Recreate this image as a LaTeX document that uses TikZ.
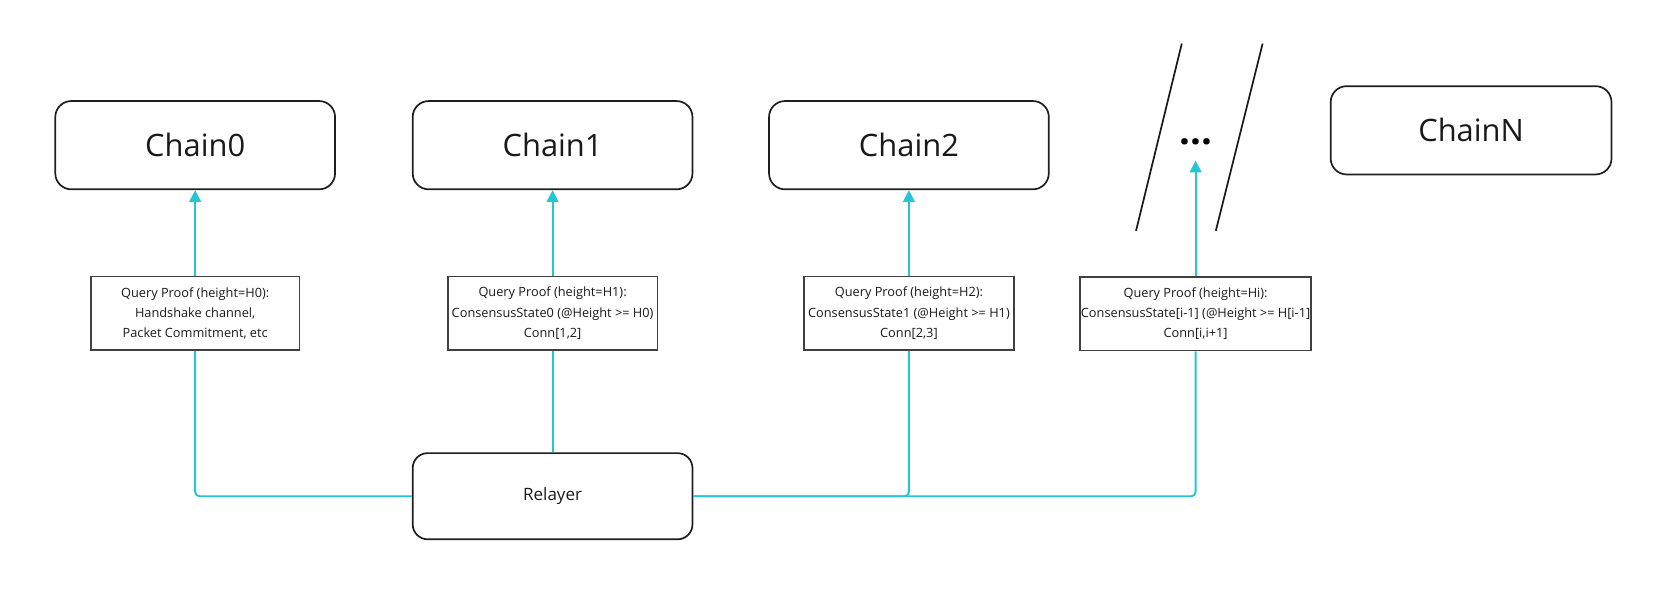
\documentclass[tikz,border=0pt]{standalone}
\usepackage{fontspec}
\setmainfont{Open Sans}
\usetikzlibrary{arrows.meta}
\definecolor{cyanline}{RGB}{34,199,211}
\definecolor{boxline}{RGB}{30,30,30}
\tikzset{
  chainbox/.style={draw=boxline, line width=1.6pt, rounded corners=15pt, minimum width=263pt, minimum height=83pt, inner sep=0pt, font=\fontsize{29}{35}\selectfont, text=black!90},
  querybox/.style={draw=boxline!85, line width=1.6pt, minimum height=69pt, inner sep=0pt, align=center, font=\fontsize{12}{19}\selectfont, text=black!90},
  relbox/.style={draw=boxline, line width=1.6pt, rounded corners=14pt, minimum width=263pt, minimum height=81pt, inner sep=0pt, font=\fontsize{16}{19}\selectfont, text=black!90},
  arr/.style={draw=cyanline, line width=1.8pt, -{Triangle[length=11pt,width=11pt]}},
  link/.style={draw=cyanline, line width=1.8pt, rounded corners=4pt},
  slash/.style={draw=black!90, line width=1.6pt}
}
\begin{document}
\begin{tikzpicture}[x=1pt,y=-1pt]
\useasboundingbox (0,0) rectangle (1570,562);
\node[chainbox] (c0) at (183.5,136.5) {Chain0};
\node[chainbox] (c1) at (519.5,136.5) {Chain1};
\node[chainbox] (c2) at (854.5,136.5) {Chain2};
\node[chainbox, minimum width=264pt] (cN) at (1383,122.5) {ChainN};
\node[inner sep=0pt, font=\fontsize{36}{40}\selectfont\bfseries] (dots) at (1124,133) {...};
\coordinate (dtip) at (1124,151);
\coordinate (s1a) at (1068,217);
\coordinate (s1b) at (1111,41);
\coordinate (s2a) at (1143,217);
\coordinate (s2b) at (1187,41);
\draw[slash] (s1a) -- (s1b);
\draw[slash] (s2a) -- (s2b);

\node[querybox, minimum width=196pt] (q0) at (183.5,294.5) {Query Proof (height=H0):\\Handshake channel,\\Packet Commitment, etc};
\node[querybox, minimum width=197pt] (q1) at (519.5,294.5) {Query Proof (height=H1):\\ConsensusState0 (@Height >= H0)\\Conn[1,2]};
\node[querybox, minimum width=197pt] (q2) at (854.5,294.5) {Query Proof (height=H2):\\ConsensusState1 (@Height >= H1)\\Conn[2,3]};
\node[querybox, minimum width=217pt] (qi) at (1124,295) {Query Proof (height=Hi):\\ConsensusState[i-1] (@Height >= H[i-1]\\Conn[i,i+1]};

\node[relbox] (rel) at (519.5,466.5) {Relayer};

\draw[arr] (q0.north) -- (c0.south);
\draw[arr] (q1.north) -- (c1.south);
\draw[arr] (q2.north) -- (c2.south);
\draw[arr] (qi.north) -- (dtip);

\draw[link] (rel.west) -| (q0.south);
\draw[link] (rel.north) -- (q1.south);
\draw[link] (rel.east) -| (q2.south);
\draw[link] (rel.east) -| (qi.south);
\end{tikzpicture}
\end{document}
